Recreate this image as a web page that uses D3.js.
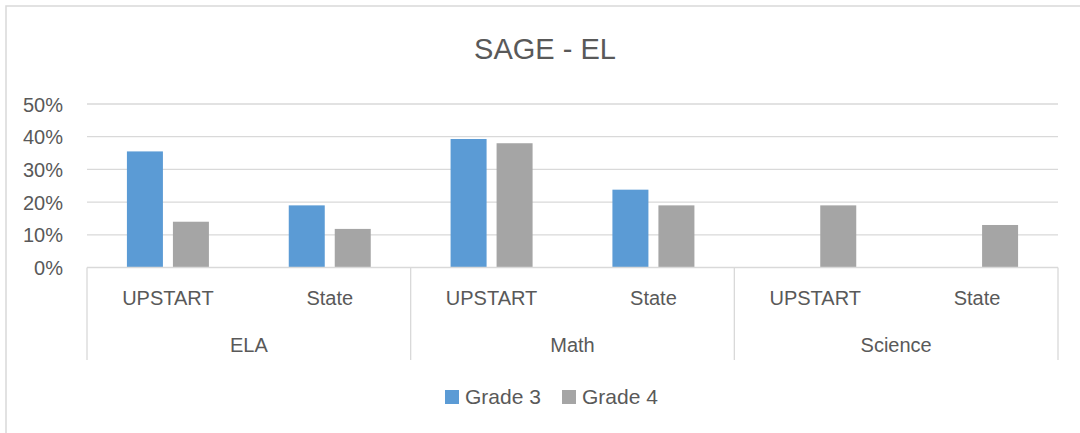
<!DOCTYPE html>
<html><head><meta charset="utf-8">
<script src="https://cdn.jsdelivr.net/npm/d3@7"></script>
<style>body{margin:0;background:#fff}svg{display:block}text{font-family:"Liberation Sans",Arial,sans-serif;fill:#595959}</style>
</head><body>
<svg id="c" width="1080" height="433"></svg>
<script>
const title = "SAGE - EL";
const groups = ["ELA", "Math", "Science"];
const subCategories = ["UPSTART", "State", "UPSTART", "State", "UPSTART", "State"];
const seriesNames = ["Grade 3", "Grade 4"];
const grade3 = [0.355, 0.19, 0.393, 0.238, null, null];
const grade4 = [0.14, 0.118, 0.38, 0.19, 0.19, 0.13];
const yTicks = [0, 0.1, 0.2, 0.3, 0.4, 0.5];
const colors = ["#5b9bd5", "#a5a5a5"];

const svg = d3.select("#c");
const grid = "#d9d9d9";
svg.append("rect").attr("x", 6).attr("y", 6).attr("width", 1090).attr("height", 440)
  .attr("fill", "#fff").attr("stroke", grid).attr("stroke-width", 1.5);

const pLeft = 87, pRight = 1058, pTop = 104, pBottom = 267.5;
const y = d3.scaleLinear().domain([0, 0.5]).range([pBottom, pTop]);
const idx = subCategories.map((d, i) => i);
const x0 = d3.scaleBand().domain(idx).range([pLeft, pRight]).padding(0);
const pair = 82;
const x1 = d3.scaleBand().domain(seriesNames)
  .range([(x0.bandwidth() - pair) / 2, (x0.bandwidth() + pair) / 2]).paddingInner(0.2174).paddingOuter(0);

// title
svg.append("text").attr("x", 545).attr("y", 59).attr("text-anchor", "middle")
  .style("font-size", "29px").text(title);

// y axis labels
const yAxis = d3.axisLeft(y).tickValues(yTicks).tickFormat(d3.format(".0%")).tickSize(0).tickPadding(0);
const ga = svg.append("g").attr("transform", `translate(63,0)`).call(yAxis);
ga.select(".domain").remove();
ga.selectAll("text").style("font-size", "20px").attr("fill", "#595959").attr("dy", "0.35em")
  .style("font-family", '"Liberation Sans",Arial,sans-serif');

// gridlines
svg.append("g").selectAll("line").data(yTicks.filter(d => d > 0)).join("line")
  .attr("x1", pLeft).attr("x2", pRight).attr("y1", d => y(d)).attr("y2", d => y(d))
  .attr("stroke", grid).attr("stroke-width", 1.3);

// bars
const series = [grade3, grade4];
const bars = [];
series.forEach((vals, s) => vals.forEach((v, i) => { if (v != null) bars.push({ s, i, v }); }));
svg.append("g").selectAll("rect").data(bars).join("rect")
  .attr("x", d => x0(d.i) + x1(seriesNames[d.s]))
  .attr("width", x1.bandwidth())
  .attr("y", d => y(d.v))
  .attr("height", d => y(0) - y(d.v))
  .attr("fill", d => colors[d.s]);

// category axis
svg.append("line").attr("x1", pLeft).attr("x2", pRight).attr("y1", pBottom).attr("y2", pBottom)
  .attr("stroke", grid).attr("stroke-width", 1.3);
const groupEdges = [0, 2, 4].map(i => x0(i)).concat([pRight]);
svg.append("g").selectAll("line").data(groupEdges).join("line")
  .attr("x1", d => d).attr("x2", d => d).attr("y1", pBottom).attr("y2", 360)
  .attr("stroke", grid).attr("stroke-width", 1.3);
svg.append("g").selectAll("text").data(idx).join("text")
  .attr("x", i => x0(i) + x0.bandwidth() / 2).attr("y", 305)
  .attr("text-anchor", "middle").style("font-size", "20px").text(i => subCategories[i]);
svg.append("g").selectAll("text").data(groups).join("text")
  .attr("x", (g, k) => (x0(k * 2) + x0(k * 2 + 1) + x0.bandwidth()) / 2).attr("y", 352)
  .attr("text-anchor", "middle").style("font-size", "20px").text(g => g);

// legend
const lx = [445, 562];
const lg = svg.append("g").selectAll("g").data(seriesNames).join("g")
  .attr("transform", (d, i) => `translate(${lx[i]},0)`);
lg.append("rect").attr("x", 0).attr("y", 390).attr("width", 14).attr("height", 14)
  .attr("fill", (d, i) => colors[i]);
lg.append("text").attr("x", 20).attr("y", 404).style("font-size", "21px").text(d => d);
</script>
</body></html>
